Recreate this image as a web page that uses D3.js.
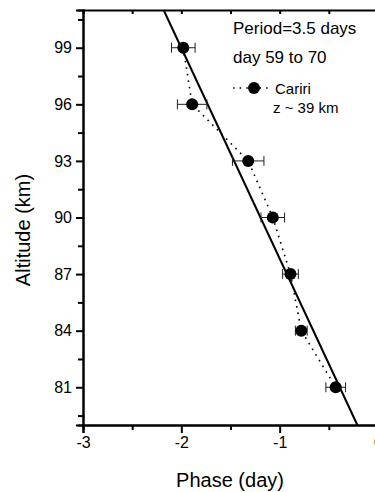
<!DOCTYPE html>
<html>
<head>
<meta charset="utf-8">
<script src="https://cdn.jsdelivr.net/npm/d3@7"></script>
<style>
  body { margin: 0; background: #fff; }
  svg { display: block; font-family: "Liberation Sans", Arial, sans-serif; }
</style>
</head>
<body>
<div id="chart"></div>
<script>
// Cariri phase profile data
const altitudes = [99, 96, 93, 90, 87, 84, 81];
const phases = [-1.98, -1.89, -1.32, -1.07, -0.89, -0.78, -0.43];
const phaseErrors = [0.12, 0.15, 0.16, 0.12, 0.08, 0.06, 0.10];
// linear fit end points
const fitPhases = [-2.18, -0.21];
const fitAltitudes = [101, 79];
const xTicks = [-3, -2, -1, 0];
const xMinorTicks = [-2.5, -1.5, -0.5];
const yTicks = [81, 84, 87, 90, 93, 96, 99];
const yMinorTicks = [79.5, 82.5, 85.5, 88.5, 91.5, 94.5, 97.5, 100.5];

const width = 375;
const height = 492;
const margin = {top: 10, left: 83, bottom: 67};
const plotRight = 378;

const svg = d3.select('#chart')
    .append('svg')
    .attr('width', width)
    .attr('height', height);

const x = d3.scaleLinear()
    .domain([-3, 0])
    .range([margin.left, plotRight]);

const y = d3.scaleLinear()
    .domain([79, 101])
    .range([height - margin.bottom, margin.top]);

const data = altitudes.map((a, i) => ({alt: a, phase: phases[i], err: phaseErrors[i]}));
const fit = fitPhases.map((p, i) => ({phase: p, alt: fitAltitudes[i]}));

// Bottom axis (plain hyphen for negatives, like the original)
const bottomAxis = svg.append('g')
    .attr('transform', `translate(0,${y(79)})`)
    .call(d3.axisBottom(x).tickValues(xTicks).tickSize(8).tickPadding(4).tickFormat(d => String(d)));
bottomAxis.append('g')
    .call(d3.axisBottom(x).tickValues(xMinorTicks).tickSize(5).tickFormat(''));

// Top axis (ticks only)
svg.append('g')
    .attr('transform', `translate(0,${y(101)})`)
    .call(d3.axisBottom(x).tickValues(xTicks.concat(xMinorTicks)).tickSize(4).tickFormat(''));

// Left axis
const leftAxis = svg.append('g')
    .attr('transform', `translate(${x(-3)},0)`)
    .call(d3.axisLeft(y).tickValues(yTicks).tickSize(7).tickPadding(4).tickFormat(d => String(d)));
leftAxis.append('g')
    .call(d3.axisLeft(y).tickValues(yMinorTicks).tickSize(5).tickFormat(''));

svg.selectAll('.domain')
    .attr('stroke', '#000')
    .attr('stroke-width', 2);
svg.selectAll('.tick line')
    .attr('stroke', '#000')
    .attr('stroke-width', 2);
svg.selectAll('.tick text')
    .attr('fill', '#000')
    .style('font-size', '16px');

// Axis titles
svg.append('text')
    .attr('x', 230)
    .attr('y', 487)
    .attr('text-anchor', 'middle')
    .style('font-size', '20px')
    .text('Phase (day)');

svg.append('text')
    .attr('transform', `translate(30,230) rotate(-90)`)
    .attr('text-anchor', 'middle')
    .style('font-size', '20px')
    .text('Altitude (km)');

// Fit line
const line = d3.line()
    .x(d => x(d.phase))
    .y(d => y(d.alt));

svg.append('path')
    .datum(fit)
    .attr('fill', 'none')
    .attr('stroke', '#000')
    .attr('stroke-width', 2)
    .attr('d', line);

// Dotted connecting line
svg.append('path')
    .datum(data)
    .attr('fill', 'none')
    .attr('stroke', '#000')
    .attr('stroke-width', 1.6)
    .attr('stroke-dasharray', '1.6,5')
    .attr('d', line);

// Error bars
const eb = svg.selectAll('.errbar')
    .data(data)
    .enter()
    .append('g')
    .attr('class', 'errbar')
    .attr('stroke', '#222')
    .attr('stroke-width', 1);

eb.append('line')
    .attr('x1', d => x(d.phase - d.err))
    .attr('x2', d => x(d.phase + d.err))
    .attr('y1', d => y(d.alt))
    .attr('y2', d => y(d.alt));
eb.append('line')
    .attr('x1', d => x(d.phase - d.err))
    .attr('x2', d => x(d.phase - d.err))
    .attr('y1', d => y(d.alt) - 5)
    .attr('y2', d => y(d.alt) + 5);
eb.append('line')
    .attr('x1', d => x(d.phase + d.err))
    .attr('x2', d => x(d.phase + d.err))
    .attr('y1', d => y(d.alt) - 5)
    .attr('y2', d => y(d.alt) + 5);

// Points
svg.selectAll('.dot')
    .data(data)
    .enter()
    .append('circle')
    .attr('class', 'dot')
    .attr('cx', d => x(d.phase))
    .attr('cy', d => y(d.alt))
    .attr('r', 6)
    .attr('fill', '#000');

// Legend
svg.append('text')
    .attr('x', 233)
    .attr('y', 34)
    .style('font-size', '17px')
    .text('Period=3.5 days');
svg.append('text')
    .attr('x', 233)
    .attr('y', 63)
    .style('font-size', '17px')
    .text('day 59 to 70');

svg.append('line')
    .attr('x1', 233)
    .attr('x2', 272)
    .attr('y1', 88)
    .attr('y2', 88)
    .attr('stroke', '#000')
    .attr('stroke-width', 1.6)
    .attr('stroke-dasharray', '1.6,5');
svg.append('circle')
    .attr('cx', 254)
    .attr('cy', 88)
    .attr('r', 6)
    .attr('fill', '#000');
svg.append('text')
    .attr('x', 275)
    .attr('y', 94)
    .style('font-size', '15px')
    .text('Cariri');
svg.append('text')
    .attr('x', 273)
    .attr('y', 113)
    .style('font-size', '15px')
    .text('z ~ 39 km');
</script>
</body>
</html>
